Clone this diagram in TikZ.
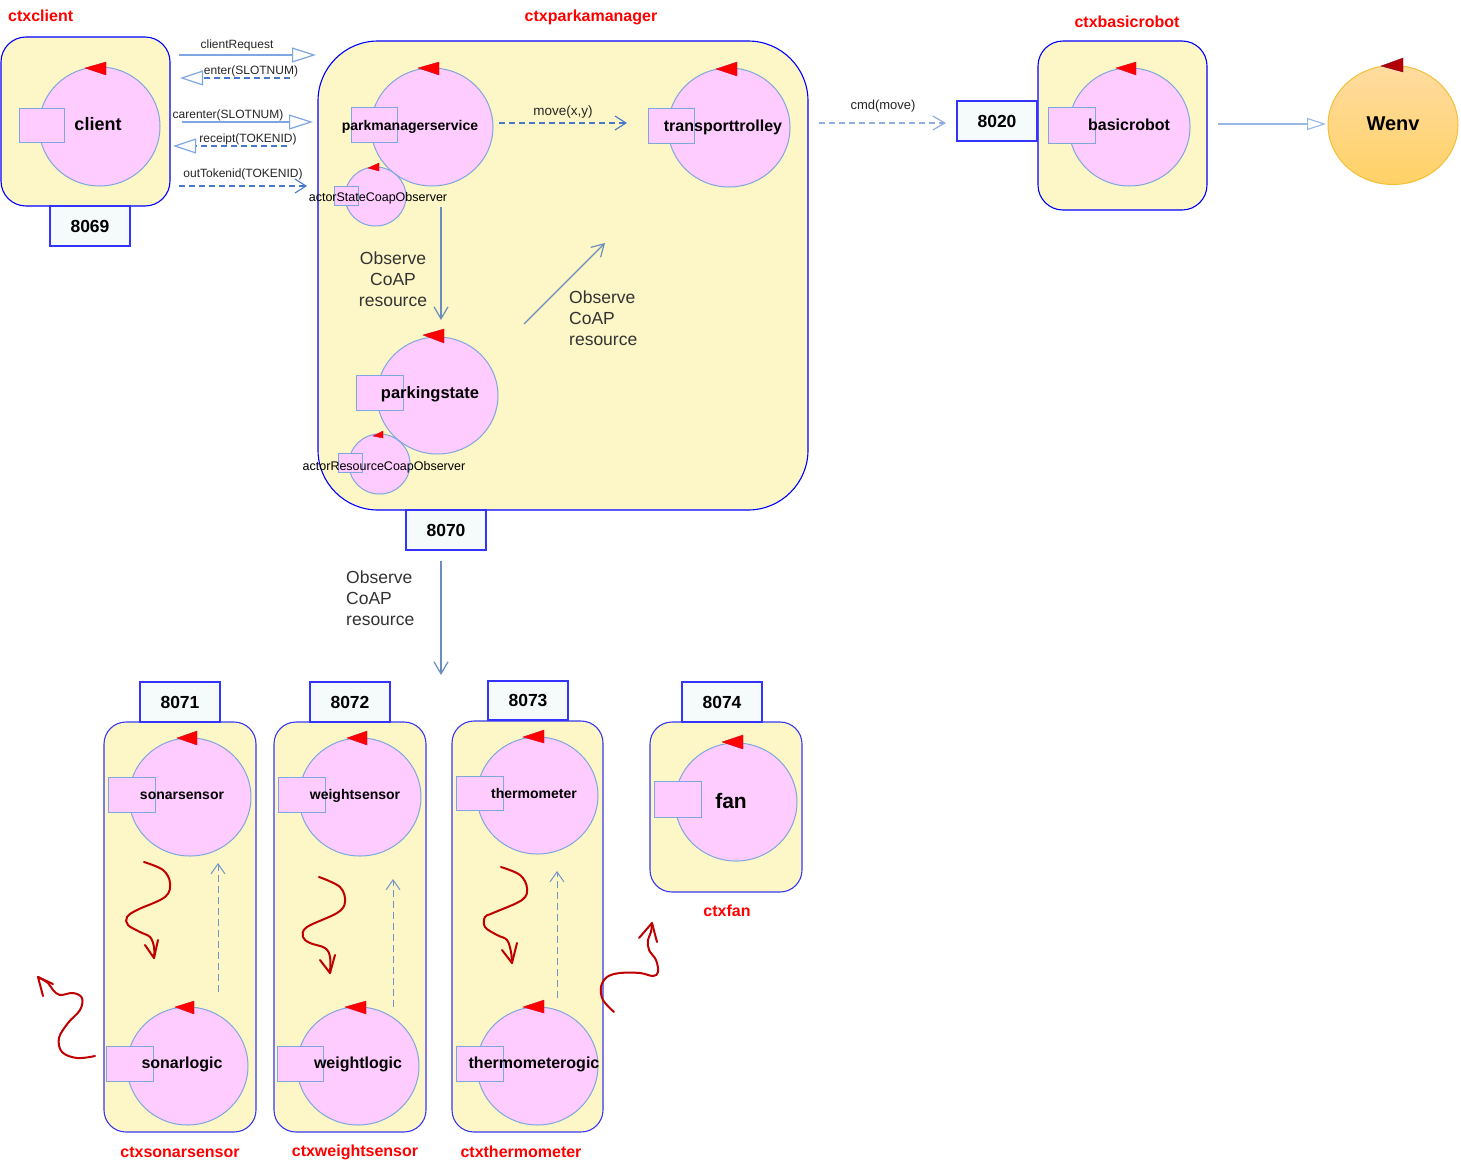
\documentclass[tikz,border=0pt]{standalone}
\usepackage{fontspec}
\setmainfont{Liberation Sans}
\usetikzlibrary{arrows.meta,shapes.geometric}

\definecolor{ctxfill}{HTML}{FDF6C6}
\definecolor{ctxblue}{HTML}{0000FF}
\definecolor{ctxblue2}{HTML}{3838F2}
\definecolor{portfill}{HTML}{F5FAFA}
\definecolor{portblue}{HTML}{3333FF}
\definecolor{actorfill}{HTML}{FFCCFF}
\definecolor{actorline}{HTML}{7EA6E0}
\definecolor{solidln}{HTML}{7EA6E0}
\definecolor{dashln}{HTML}{4A78C8}
\definecolor{lightdash}{HTML}{8FAEDD}
\definecolor{squig}{HTML}{C00000}
\definecolor{wenvtop}{HTML}{FFDCA0}
\definecolor{wenvbot}{HTML}{FFD166}
\definecolor{wenvline}{HTML}{F2C037}
\definecolor{darkred}{HTML}{B20000}
\definecolor{notegray}{HTML}{333333}

\newcommand{\fs}[1]{\fontsize{#1}{#1}\selectfont}
% small red triangle on top of an actor: apex, x of the right edge, top and bottom of that edge
\newcommand{\rtri}[5]{\filldraw[tri] (#1,#2) -- (#3,#4) -- (#3,#5) -- cycle;}

\tikzset{
  ctx/.style={draw=ctxblue, fill=ctxfill, line width=1.1pt, rounded corners=#1, inner sep=0},
  ctxb/.style={ctx=#1, draw=ctxblue2},
  ctxlbl/.style={font=\fs{16}\bfseries, text=red, inner sep=0},
  port/.style={draw=portblue, fill=portfill, line width=1.1pt, minimum width=80pt, minimum height=40pt, inner sep=0, font=\fs{17.5}\bfseries},
  actorc/.style={ellipse, draw=actorline, fill=actorfill, line width=1pt, inner sep=0},
  actorr/.style={draw=actorline, fill=actorfill, line width=1pt, inner sep=0},
  atxt/.style={inner sep=0, anchor=base, font=\fs{#1}\bfseries},
  otxt/.style={inner sep=0, anchor=base, font=\fs{12.5}},
  tri/.style={fill=red, draw=red!85!blue, line width=0.4pt},
  lbl/.style={inner sep=0, font=\fs{12}, text=black!85},
  note/.style={inner sep=0, font=\fontsize{17.5}{21}\selectfont, text=notegray},
  solidarr/.style={draw=solidln, line width=1.4pt, -{Triangle[open, length=24pt, width=15pt, line width=1.2pt]}},
  dasharr/.style={draw=dashln, line width=1.1pt, dash pattern=on 6pt off 4pt, -{Triangle[open, length=23pt, width=15pt, line width=1.2pt, color=solidln]}},
  vdash/.style={draw=dashln, line width=1.1pt, dash pattern=on 6pt off 4pt, -{Straight Barb[length=11pt, width=14pt, line width=1.1pt]}},
  varr/.style={draw=solidln!85!black, line width=1.3pt, -{Straight Barb[length=12pt, width=14pt, line width=1.2pt]}},
  uparr/.style={draw=actorline!90!black, line width=1pt, dash pattern=on 7pt off 4pt, -{Straight Barb[length=10pt, width=14pt, line width=1pt]}},
  wave/.style={draw=squig, line width=2pt, line cap=round, line join=round},
}

\begin{document}
\begin{tikzpicture}[x=1pt, y=-1pt]
\useasboundingbox (0,0) rectangle (1461,1162);
\fill[white] (0,0) rectangle (1461,1162);

% ---------------- context boxes ----------------
\node[ctx=25pt, minimum width=169pt, minimum height=169pt] (ctxclient) at (85.5,121.5) {};
\node[ctxlbl, anchor=west] (ctxclient-l) at (8,16) {ctxclient};
\node[port] (p8069) at (90,226) {8069};

\node[ctx=60pt, minimum width=490pt, minimum height=469pt] (ctxpark) at (563,275.5) {};
\node[ctxlbl] (ctxpark-l) at (591,17) {ctxparkamanager};
\node[port] (p8070) at (446,530) {8070};

\node[ctx=25pt, minimum width=169pt, minimum height=169pt] (ctxrobot) at (1122.5,125.5) {};
\node[ctxlbl] (ctxrobot-l) at (1127,22) {ctxbasicrobot};
\node[port] (p8020) at (997,121) {8020};

\node[ctxb=22pt, minimum width=152pt, minimum height=410pt] (ctxsonar) at (180,927) {};
\node[port] (p8071) at (180,702) {8071};
\node[ctxlbl] (ctxsonar-l) at (180,1152) {ctxsonarsensor};

\node[ctxb=22pt, minimum width=152pt, minimum height=410pt] (ctxweight) at (350,927) {};
\node[port] (p8072) at (350,702) {8072};
\node[ctxlbl] (ctxweight-l) at (355,1152) {ctxweightsensor};

\node[ctxb=22pt, minimum width=151pt, minimum height=411pt] (ctxthermo) at (527.5,926.5) {};
\node[port, minimum height=39pt] (p8073) at (528,700.5) {8073};
\node[ctxlbl] (ctxthermo-l) at (521,1152) {ctxthermometer};

\node[ctxb=22pt, minimum width=152pt, minimum height=170pt] (ctxfan) at (726,807) {};
\node[port] (p8074) at (722,702) {8074};
\node[ctxlbl] (ctxfan-l) at (727,911) {ctxfan};

% ---------------- actors ----------------
% client
\node[actorc, minimum width=121pt, minimum height=119pt] (client) at (99.5,126.5) {};
\node[actorr, minimum width=45pt, minimum height=34pt] (client-r) at (41.5,125) {};
\rtri{85}{68}{106}{62}{75}
\node[atxt=18] (client-t) at (98,130.5) {client};

% parkmanagerservice
\node[actorc, minimum width=122pt, minimum height=118pt] (pms) at (432,127) {};
\node[actorr, minimum width=46pt, minimum height=35pt] (pms-r) at (374,124.5) {};
\rtri{418}{68}{439}{62}{75}
\node[atxt=14] (pms-t) at (410,130) {parkmanagerservice};

% actorStateCoapObserver
\node[actorc, minimum width=61pt, minimum height=59pt] (aso) at (375.5,196.5) {};
\node[actorr, minimum width=24pt, minimum height=19pt] (aso-r) at (346,195.5) {};
\rtri{368}{168}{379}{163}{171}
\node[otxt] (aso-t) at (378,201.5) {actorStateCoapObserver};

% transporttrolley
\node[actorc, minimum width=122pt, minimum height=119pt] (tt) at (729,127.5) {};
\node[actorr, minimum width=46pt, minimum height=35pt] (tt-r) at (671,125.5) {};
\rtri{716}{69}{737}{62}{76}
\node[atxt=16] (tt-t) at (723,131) {transporttrolley};

% parkingstate
\node[actorc, minimum width=121pt, minimum height=117pt] (ps) at (437.5,395.5) {};
\node[actorr, minimum width=47pt, minimum height=35pt] (ps-r) at (379.5,392.5) {};
\rtri{423}{335}{444}{329}{343}
\node[atxt=16.5] (ps-t) at (430,398) {parkingstate};

% actorResourceCoapObserver
\node[actorc, minimum width=61pt, minimum height=60pt] (aro) at (379.5,464) {};
\node[actorr, minimum width=24pt, minimum height=19pt] (aro-r) at (350,462.5) {};
\rtri{373}{436}{383}{431}{438}
\node[otxt] (aro-t) at (384,470) {actorResourceCoapObserver};

% basicrobot
\node[actorc, minimum width=121pt, minimum height=118pt] (br) at (1129.5,127) {};
\node[actorr, minimum width=47pt, minimum height=36pt] (br-r) at (1071.5,125) {};
\rtri{1116}{68}{1136}{62}{75}
\node[atxt=16] (br-t) at (1129,130) {basicrobot};

% Wenv
\node[ellipse, draw=wenvline, line width=1pt, top color=wenvtop, bottom color=wenvbot, minimum width=130pt, minimum height=119pt, inner sep=0] (wenv) at (1393,125) {};
\filldraw[fill=darkred, draw=darkred!70!blue, line width=0.4pt] (1381,66) -- (1403,58) -- (1403,72) -- cycle;
\node[atxt=20] (wenv-t) at (1393,130) {Wenv};

% sonarsensor / sonarlogic
\node[actorc, minimum width=122pt, minimum height=118pt] (ss) at (190,797) {};
\node[actorr, minimum width=47pt, minimum height=35pt] (ss-r) at (131.5,794.5) {};
\rtri{177}{738}{197}{731}{745}
\node[atxt=14] (ss-t) at (182,799) {sonarsensor};

\node[actorc, minimum width=121pt, minimum height=118pt] (sl) at (187.5,1066) {};
\node[actorr, minimum width=47pt, minimum height=35pt] (sl-r) at (129.5,1063.5) {};
\rtri{175}{1007}{194}{1001}{1014}
\node[atxt=16] (sl-t) at (182,1068) {sonarlogic};

% weightsensor / weightlogic
\node[actorc, minimum width=122pt, minimum height=118pt] (ws) at (360,797) {};
\node[actorr, minimum width=47pt, minimum height=35pt] (ws-r) at (301.5,794.5) {};
\rtri{347}{738}{367}{731}{745}
\node[atxt=14] (ws-t) at (355,799) {weightsensor};

\node[actorc, minimum width=122pt, minimum height=118pt] (wl) at (358,1066) {};
\node[actorr, minimum width=46pt, minimum height=35pt] (wl-r) at (300,1063.5) {};
\rtri{345}{1007}{366}{1001}{1014}
\node[atxt=16] (wl-t) at (358,1068) {weightlogic};

% thermometer / thermometerogic
\node[actorc, minimum width=121pt, minimum height=117pt] (th) at (537.5,795.5) {};
\node[actorr, minimum width=47pt, minimum height=34pt] (th-r) at (479.5,793) {};
\rtri{523}{737}{544}{730}{743}
\node[atxt=14] (th-t) at (534,798) {thermometer};

\node[actorc, minimum width=121pt, minimum height=118pt] (tl) at (537.5,1066) {};
\node[actorr, minimum width=47pt, minimum height=35pt] (tl-r) at (479.5,1063.5) {};
\rtri{523}{1007}{544}{1000}{1013}
\node[atxt=16] (tl-t) at (534,1068) {thermometerogic};

% fan
\node[actorc, minimum width=122pt, minimum height=118pt] (fan) at (736,802) {};
\node[actorr, minimum width=47pt, minimum height=36pt] (fan-r) at (677.5,799) {};
\rtri{722}{742}{743}{735}{749}
\node[atxt=21] (fan-t) at (731,808.5) {fan};

% ---------------- messages between client and parkmanager ----------------
\coordinate (crq-a) at (179,55);   \coordinate (crq-b) at (316,55);
\coordinate (ent-a) at (290,78);   \coordinate (ent-b) at (180,78);
\coordinate (car-a) at (182,122);  \coordinate (car-b) at (313,122);
\coordinate (rec-a) at (287,146);  \coordinate (rec-b) at (173,146);
\coordinate (out-a) at (179,186);  \coordinate (out-b) at (307,186);

\draw[solidarr] (crq-a) -- (crq-b);
\node[lbl] (crq-l) at (237,45) {clientRequest};
\draw[dasharr] (ent-a) -- (ent-b);
\node[lbl] (ent-l) at (251,71) {enter(SLOTNUM)};
\draw[solidarr] (car-a) -- (car-b);
\node[lbl] (car-l) at (228,115) {carenter(SLOTNUM)};
\draw[dasharr] (rec-a) -- (rec-b);
\node[lbl] (rec-l) at (248,139) {receipt(TOKENID)};
\draw[vdash] (out-a) -- (out-b);
\node[lbl] (out-l) at (243,174) {outTokenid(TOKENID)};

% ---------------- inside the parkmanager context ----------------
\coordinate (mv-a) at (499,123);   \coordinate (mv-b) at (627,123);
\draw[vdash] (mv-a) -- (mv-b);
\node[lbl, font=\fs{13.5}] (mv-l) at (563,112) {move(x,y)};

\coordinate (ob1-a) at (441,207);  \coordinate (ob1-b) at (441,320);
\draw[varr] (ob1-a) -- (ob1-b);
\node[note, align=center] (ob1-t) at (393,279) {Observe\\CoAP\\resource};

\coordinate (ob2-a) at (524,324);  \coordinate (ob2-b) at (605,243);
\draw[varr] (ob2-a) -- (ob2-b);
\node[note, align=left, anchor=north west] (ob2-t) at (569,291) {Observe\\CoAP\\resource};

\coordinate (ob3-a) at (441,561);  \coordinate (ob3-b) at (441,675);
\draw[varr] (ob3-a) -- (ob3-b);
\node[note, align=left, anchor=north west] (ob3-t) at (346,571) {Observe\\CoAP\\resource};

% ---------------- basicrobot ----------------
\coordinate (cmd-a) at (819,123);  \coordinate (cmd-b) at (946,123);
\draw[draw=lightdash, line width=1.6pt, dash pattern=on 6pt off 4pt, -{Straight Barb[length=12pt, width=14pt, line width=1.2pt]}] (cmd-a) -- (cmd-b);
\node[lbl, font=\fs{13}] (cmd-l) at (883,106) {cmd(move)};

\coordinate (rw-a) at (1218,124);  \coordinate (rw-b) at (1326,124);
\draw[draw=actorline!80!white, line width=1.3pt, -{Triangle[open, length=19pt, width=12pt, line width=1.1pt]}] (rw-a) -- (rw-b);

% ---------------- sensor contexts: logic to sensor updates ----------------
\coordinate (su-a) at (218,992);   \coordinate (su-b) at (218,863);
\draw[uparr] (su-a) -- (su-b);
\coordinate (wu-a) at (393,1007);  \coordinate (wu-b) at (393,879);
\draw[uparr] (wu-a) -- (wu-b);
\coordinate (tu-a) at (557,998);   \coordinate (tu-b) at (557,871);
\draw[uparr] (tu-a) -- (tu-b);

% ---------------- hand-drawn event squiggles ----------------
\draw[wave] plot[smooth, tension=0.6] coordinates {(144,862) (163,870) (170,883) (165,897) (137,910) (127,917) (128,925) (140,932) (150,937) (154,947) (154,958)};
\draw[wave] (145,945) -- (154,958) -- (158,940);

\draw[wave] plot[smooth, tension=0.6] coordinates {(95,1056) (77,1058) (62,1052) (59,1038) (68,1023) (80,1010) (82,998) (73,993) (60,995) (53,990) (48,983) (38,977)};
\draw[wave] (53,984) -- (38,977) -- (43,996);

\draw[wave] plot[smooth, tension=0.6] coordinates {(319,877) (340,887) (345,902) (337,913) (307,927) (303,937) (310,943) (325,948) (330,957) (330,973)};
\draw[wave] (320,960) -- (330,973) -- (335,955);

\draw[wave] plot[smooth, tension=0.6] coordinates {(501,867) (520,875) (527,888) (522,900) (493,913) (485,917) (485,927) (497,935) (507,940) (511,952) (512,963)};
\draw[wave] (502,950) -- (512,963) -- (517,943);

\draw[wave] plot[smooth, tension=0.6] coordinates {(614,1012) (603,1000) (601,987) (607,977) (620,973) (640,973) (653,976) (658,972) (656,960) (649,950) (648,940) (651,932) (652,923)};
\draw[wave] (639,938) -- (652,923) -- (657,942);

\end{tikzpicture}
\end{document}
